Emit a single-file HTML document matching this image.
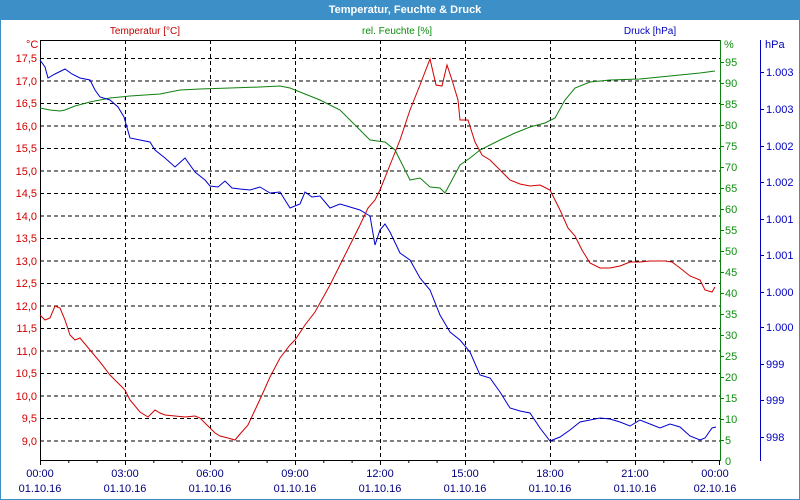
<!DOCTYPE html>
<html><head><meta charset="utf-8"><style>
body{margin:0;background:#fff}
svg{display:block;font-family:"Liberation Sans",Tahoma,sans-serif;font-size:10px}
</style></head><body>
<svg width="800" height="500" viewBox="0 0 800 500" xmlns="http://www.w3.org/2000/svg">
<rect x="0" y="0" width="800" height="500" fill="#fff"/>
<rect x="0" y="0" width="800" height="20" fill="#3d8fc7"/>
<rect x="0.5" y="0.5" width="799" height="499" fill="none" stroke="#3d8fc7"/>
<text x="405" y="13" text-anchor="middle" fill="#fff" font-weight="bold" font-size="11">Temperatur, Feuchte &amp; Druck</text>
<text x="145" y="34" text-anchor="middle" fill="#c00000">Temperatur [°C]</text>
<text x="397" y="34" text-anchor="middle" fill="#0a8a0a">rel. Feuchte [%]</text>
<text x="650" y="34" text-anchor="middle" fill="#0000c0">Druck [hPa]</text>
<text x="26" y="48" fill="#d00000" font-size="11">°C</text>
<text x="724" y="48" fill="#109010" font-size="11">%</text>
<text x="765" y="48" fill="#0000c0" font-size="11">hPa</text>
<g stroke="#000" stroke-dasharray="4,3" stroke-width="1">
<line x1="40" x2="720" y1="58.5" y2="58.5"/><line x1="40" x2="720" y1="81" y2="81"/><line x1="40" x2="720" y1="103.5" y2="103.5"/><line x1="40" x2="720" y1="126" y2="126"/><line x1="40" x2="720" y1="148.5" y2="148.5"/><line x1="40" x2="720" y1="171" y2="171"/><line x1="40" x2="720" y1="193.5" y2="193.5"/><line x1="40" x2="720" y1="216" y2="216"/><line x1="40" x2="720" y1="238.5" y2="238.5"/><line x1="40" x2="720" y1="261" y2="261"/><line x1="40" x2="720" y1="283.5" y2="283.5"/><line x1="40" x2="720" y1="306" y2="306"/><line x1="40" x2="720" y1="328.5" y2="328.5"/><line x1="40" x2="720" y1="351" y2="351"/><line x1="40" x2="720" y1="373.5" y2="373.5"/><line x1="40" x2="720" y1="396" y2="396"/><line x1="40" x2="720" y1="418.5" y2="418.5"/><line x1="40" x2="720" y1="441" y2="441"/>
<line y1="40" y2="460" x1="125.5" x2="125.5"/><line y1="40" y2="460" x1="210.5" x2="210.5"/><line y1="40" y2="460" x1="295.5" x2="295.5"/><line y1="40" y2="460" x1="380.5" x2="380.5"/><line y1="40" y2="460" x1="465.5" x2="465.5"/><line y1="40" y2="460" x1="550.5" x2="550.5"/><line y1="40" y2="460" x1="635.5" x2="635.5"/>
</g>
<line x1="40" y1="40.5" x2="720" y2="40.5" stroke="#000"/>
<line x1="40.5" y1="40" x2="40.5" y2="461" stroke="#000"/>
<line x1="40" y1="460.5" x2="720" y2="460.5" stroke="#000"/>
<line x1="720.5" y1="40" x2="720.5" y2="461" stroke="#108010"/>
<line x1="760.5" y1="40" x2="760.5" y2="461" stroke="#0000c0"/>
<g stroke="#000">
<path d="M40.5 460v5M68.8 460v3M97.1 460v3M125.5 460v5M153.8 460v3M182.1 460v3M210.5 460v5M238.8 460v3M267.1 460v3M295.5 460v5M323.8 460v3M352.1 460v3M380.5 460v5M408.8 460v3M437.1 460v3M465.5 460v5M493.8 460v3M522.1 460v3M550.5 460v5M578.8 460v3M607.1 460v3M635.5 460v5M663.8 460v3M692.1 460v3M719.5 460v5"/>
</g>
<g fill="#d00000" text-anchor="end" font-size="11">
<text x="37" y="62">17,5</text><text x="37" y="85">17,0</text><text x="37" y="107">16,5</text><text x="37" y="130">16,0</text><text x="37" y="152">15,5</text><text x="37" y="175">15,0</text><text x="37" y="197">14,5</text><text x="37" y="220">14,0</text><text x="37" y="242">13,5</text><text x="37" y="265">13,0</text><text x="37" y="287">12,5</text><text x="37" y="310">12,0</text><text x="37" y="332">11,5</text><text x="37" y="355">11,0</text><text x="37" y="377">10,5</text><text x="37" y="400">10,0</text><text x="37" y="422">9,5</text><text x="37" y="445">9,0</text>
</g>
<g fill="#109010" font-size="11">
<text x="725" y="66">95</text><text x="725" y="87">90</text><text x="725" y="108">85</text><text x="725" y="129">80</text><text x="725" y="150">75</text><text x="725" y="171">70</text><text x="725" y="192">65</text><text x="725" y="213">60</text><text x="725" y="234">55</text><text x="725" y="255">50</text><text x="725" y="276">45</text><text x="725" y="297">40</text><text x="725" y="318">35</text><text x="725" y="339">30</text><text x="725" y="360">25</text><text x="725" y="381">20</text><text x="725" y="402">15</text><text x="725" y="423">10</text><text x="725" y="444">5</text><text x="725" y="465">0</text>
</g>
<g stroke="#108010"><path d="M720 62.5h4M720 83.5h4M720 104.5h4M720 125.5h4M720 146.5h4M720 167.5h4M720 188.5h4M720 209.5h4M720 230.5h4M720 251.5h4M720 272.5h4M720 293.5h4M720 314.5h4M720 335.5h4M720 356.5h4M720 377.5h4M720 398.5h4M720 419.5h4M720 440.5h4"/></g>
<g stroke="#0000c0"><path d="M760 72.5h4M760 109.5h4M760 146.5h4M760 182.5h4M760 219.5h4M760 255.5h4M760 292.5h4M760 327.5h4M760 364.5h4M760 400.5h4M760 437.5h4"/></g>
<g fill="#0000c0" font-size="11">
<text x="766" y="76">1.003</text><text x="766" y="113">1.003</text><text x="766" y="150">1.002</text><text x="766" y="186">1.002</text><text x="766" y="223">1.001</text><text x="766" y="259">1.001</text><text x="766" y="296">1.000</text><text x="766" y="331">1.000</text><text x="766" y="368">999</text><text x="766" y="404">999</text><text x="766" y="441">998</text>
</g>
<g fill="#000080" text-anchor="middle" font-size="11">
<text x="40" y="477">00:00</text><text x="40" y="492">01.10.16</text>
<text x="125" y="477">03:00</text><text x="125" y="492">01.10.16</text>
<text x="210" y="477">06:00</text><text x="210" y="492">01.10.16</text>
<text x="295" y="477">09:00</text><text x="295" y="492">01.10.16</text>
<text x="380" y="477">12:00</text><text x="380" y="492">01.10.16</text>
<text x="465" y="477">15:00</text><text x="465" y="492">01.10.16</text>
<text x="550" y="477">18:00</text><text x="550" y="492">01.10.16</text>
<text x="635" y="477">21:00</text><text x="635" y="492">01.10.16</text>
<text x="715" y="477">00:00</text><text x="715" y="492">02.10.16</text>
</g>
<g fill="none" stroke-width="1">
<polyline stroke="#108010" points="40,108 50,110 60,111 65,110 75,106 90,102 110,98 130,96 160,94 180,90 200,89 230,88 260,87 280,86 290,88 300,92 320,100 340,110 350,120 360,130 370,140 385,142 395,150 400,160 405,170 410,180 420,178 430,187 440,188 445,193 452,180 460,165 470,158 480,150 500,140 515,133 530,127 545,123 555,118 565,100 575,88 590,82 610,80 640,79 660,77 680,75 700,73 715,71"/>
<polyline stroke="#0000d0" points="40,60 45,67 48,78 55,74 65,69 72,74 80,78 90,80 95,90 100,97 110,100 118,107 124,117 130,138 140,140 150,142 155,150 165,158 175,167 185,158 195,172 205,180 210,186 218,187 225,181 232,188 240,189 250,190 260,187 270,193 280,192 290,208 300,204 305,192 312,197 320,196 330,208 340,204 350,207 360,210 370,216 375,245 380,230 385,224 390,232 400,253 410,260 420,278 430,290 440,315 450,332 460,340 470,352 480,375 490,378 500,392 510,408 520,411 530,413 540,428 550,441 560,437 570,430 580,422 590,420 600,418 610,419 620,422 630,426 640,420 650,424 660,428 670,424 680,427 690,436 700,440 705,438 712,428 716,427"/>
<polyline stroke="#d00000" points="40,315 45,320 50,318 55,306 60,308 65,320 70,335 75,340 80,338 90,350 100,362 110,375 120,385 125,390 130,400 140,412 148,417 155,410 160,413 165,415 175,416 185,417 195,416 200,418 210,428 215,433 220,436 228,438 235,440 240,434 248,425 255,410 262,395 270,377 280,358 290,345 295,340 305,325 315,312 320,303 330,285 340,265 350,245 360,225 368,208 375,200 380,190 390,165 400,140 410,110 420,85 430,59 436,85 442,86 447,65 452,80 458,100 460,120 468,120 475,142 482,155 490,160 500,170 510,180 520,184 530,186 540,185 550,190 560,210 568,228 575,236 582,250 590,263 600,268 610,268 620,266 630,262 640,262 650,261 665,261 672,262 680,268 690,276 700,280 705,290 712,292 715,287"/>
</g>
</svg>
</body></html>
